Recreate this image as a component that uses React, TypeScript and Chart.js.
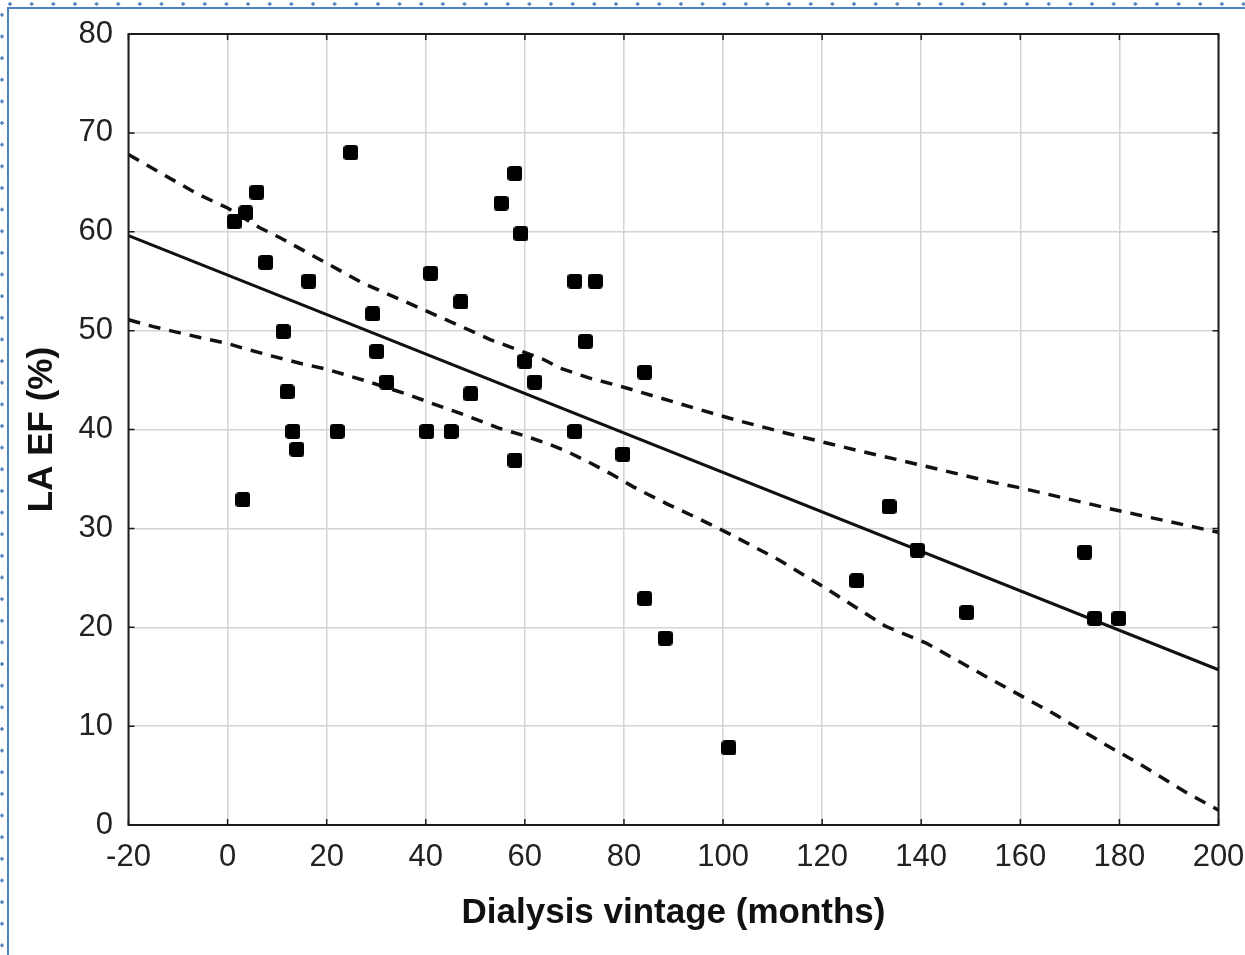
import React, { useEffect, useRef } from "react";
import { Chart, registerables } from "chart.js";

Chart.register(...registerables);

// Dialysis vintage (months) and LA EF (%) for each patient
const vintage = [
  1.3, 3.7, 5.9, 3.1, 7.7, 11.2, 12.0, 13.2, 14.0, 16.4, 22.1, 24.9, 29.3, 30.1,
  32.1, 40.2, 41.0, 45.1, 47.1, 49.1, 55.2, 58.0, 59.2, 60.0, 62.0, 58.0, 70.1,
  74.2, 72.2, 70.1, 79.8, 84.2, 84.2, 88.3, 101.2, 127.0, 133.5, 139.2, 149.2,
  173.0, 175.0, 179.9,
];
const laEF = [
  61.0, 61.9, 64.0, 32.9, 56.9, 49.9, 43.8, 39.8, 38.0, 55.0, 39.8, 68.0, 51.7,
  47.9, 44.8, 39.8, 55.8, 39.8, 52.9, 43.6, 62.9, 65.9, 59.8, 46.9, 44.8, 36.9,
  55.0, 55.0, 48.9, 39.8, 37.5, 45.8, 22.9, 18.9, 7.8, 24.7, 32.2, 27.8, 21.5,
  27.6, 20.9, 20.9,
];

// Regression line
const fitX = [-20, 200];
const fitY = [59.6, 15.7];

// 95% confidence band (upper)
const upperX = [
  -20, -6, 0, 6.5, 10.6, 18.6, 27.3, 36, 45, 53, 58.3, 63.7, 67.1, 73.1, 80.5,
  85.9, 94, 102.3, 113, 127, 136.5, 155, 160, 178, 200,
];
const upperY = [
  67.8, 63.8, 62.4, 60.4, 59.4, 57.2, 54.8, 52.9, 50.9, 49.1, 48.1, 47.1, 46.2,
  45.2, 44.2, 43.4, 42.2, 41.0, 39.6, 37.9, 36.8, 34.6, 34.1, 32.0, 29.6,
];

// 95% confidence band (lower)
const lowerX = [
  -20, -15, -5.6, 0, 4, 9.2, 14.6, 20, 28, 36, 41.5, 46, 50.3, 55, 59.7, 64.4,
  68.4, 72.5, 77.8, 81.9, 85, 89, 95, 101.5, 111.3, 121.2, 132.8, 141, 154.2,
  166.6, 177.3, 184, 193.8, 200,
];
const lowerY = [
  51.1, 50.4, 49.3, 48.7, 48.1, 47.4, 46.7, 46.1, 44.9, 43.6, 42.6, 41.8, 41.0,
  40.1, 39.4, 38.6, 37.8, 36.8, 35.4, 34.2, 33.4, 32.4, 31.0, 29.4, 26.8, 23.8,
  20.1, 18.4, 14.7, 11.3, 8.1, 6.2, 3.2, 1.5,
];

const xTitle = "Dialysis vintage (months)";
const yTitle = "LA EF (%)";

const W = 1245;
const H = 955;
const FONT = '"Liberation Sans", Arial, Helvetica, sans-serif';

const pts = (xs: number[], ys: number[]) => xs.map((x, i) => ({ x, y: ys[i] }));

function makeMarker(): HTMLCanvasElement {
  const s = 15;
  const c = document.createElement("canvas");
  c.width = s;
  c.height = s;
  const g = c.getContext("2d")!;
  g.fillStyle = "#000";
  g.beginPath();
  const r = 3.5;
  g.moveTo(r, 0);
  g.lineTo(s - r, 0);
  g.quadraticCurveTo(s, 0, s, r);
  g.lineTo(s, s - r);
  g.quadraticCurveTo(s, s, s - r, s);
  g.lineTo(r, s);
  g.quadraticCurveTo(0, s, 0, s - r);
  g.lineTo(0, r);
  g.quadraticCurveTo(0, 0, r, 0);
  g.closePath();
  g.fill();
  return c;
}

const framePlugin = {
  id: "frame",
  afterDatasetsDraw(chart: any) {
    const { ctx, chartArea: a, scales } = chart;
    const xs = scales.x;
    const ys = scales.y;
    ctx.save();
    ctx.strokeStyle = "#1c1c1c";
    ctx.lineWidth = 2;
    ctx.strokeRect(a.left, a.top, a.right - a.left, a.bottom - a.top);
    ctx.lineWidth = 1.5;
    ctx.beginPath();
    xs.ticks.forEach((t: any) => {
      const p = xs.getPixelForValue(t.value);
      ctx.moveTo(p, a.top);
      ctx.lineTo(p, a.top + 6);
      ctx.moveTo(p, a.bottom);
      ctx.lineTo(p, a.bottom - 6);
    });
    ys.ticks.forEach((t: any) => {
      const p = ys.getPixelForValue(t.value);
      ctx.moveTo(a.left, p);
      ctx.lineTo(a.left + 6, p);
      ctx.moveTo(a.right, p);
      ctx.lineTo(a.right - 6, p);
    });
    ctx.stroke();
    ctx.restore();
  },
};

function ScatterChart() {
  const ref = useRef<HTMLCanvasElement>(null);
  useEffect(() => {
    if (!ref.current) return;
    const marker = makeMarker();
    const chart = new Chart(ref.current, {
      type: "scatter",
      data: {
        datasets: [
          {
            type: "scatter",
            data: pts(vintage, laEF),
            pointStyle: marker,
            pointRadius: 8,
            pointHoverRadius: 8,
            backgroundColor: "#000",
            borderWidth: 0,
            order: 0,
          } as any,
          {
            type: "line",
            data: pts(fitX, fitY),
            borderColor: "#111",
            borderWidth: 3,
            pointRadius: 0,
            tension: 0,
            fill: false,
            order: 1,
          },
          {
            type: "line",
            data: pts(upperX, upperY),
            borderColor: "#111",
            borderWidth: 3.5,
            borderDash: [12, 9],
            pointRadius: 0,
            tension: 0,
            fill: false,
            order: 2,
          },
          {
            type: "line",
            data: pts(lowerX, lowerY),
            borderColor: "#111",
            borderWidth: 3.5,
            borderDash: [12, 9],
            pointRadius: 0,
            tension: 0,
            fill: false,
            order: 2,
          },
        ],
      },
      options: {
        animation: false,
        responsive: false,
        devicePixelRatio: 1,
        events: [],
        layout: { padding: { left: 0, right: 26.5, top: 34, bottom: 0 } },
        plugins: {
          legend: { display: false },
          tooltip: { enabled: false },
          title: { display: false },
        },
        scales: {
          x: {
            type: "linear",
            min: -20,
            max: 200,
            afterFit: (s: any) => {
              s.height = 130;
              s.paddingLeft = 0;
              s.paddingRight = 0;
            },
            ticks: {
              stepSize: 20,
              padding: 14,
              color: "#222",
              font: { family: FONT, size: 31 },
              maxRotation: 0,
              autoSkip: false,
            },
            grid: { color: "#d4d4d4", lineWidth: 1.5, drawTicks: false },
            border: { display: false },
            title: {
              display: true,
              text: xTitle,
              color: "#111",
              font: { family: FONT, size: 35, weight: "bold" },
              padding: { top: 0, bottom: 21 },
            },
          },
          y: {
            type: "linear",
            min: 0,
            max: 80,
            afterFit: (s: any) => {
              s.width = 128.5;
              s.paddingTop = 0;
              s.paddingBottom = 0;
            },
            ticks: {
              stepSize: 10,
              padding: 15.5,
              color: "#222",
              font: { family: FONT, size: 31 },
            },
            grid: { color: "#d4d4d4", lineWidth: 1.5, drawTicks: false },
            border: { display: false },
            title: {
              display: true,
              text: yTitle,
              color: "#111",
              font: { family: FONT, size: 35, weight: "bold" },
              padding: { top: 21, bottom: 0 },
            },
          },
        },
      },
      plugins: [framePlugin],
    });
    return () => chart.destroy();
  }, []);
  return (
    <canvas
      ref={ref}
      width={W}
      height={H}
      style={{ position: "absolute", left: 0, top: 0, width: W, height: H }}
    />
  );
}

export default function App() {
  const blue = "#4f81bd";
  return (
    <div
      style={{
        position: "fixed",
        left: 0,
        top: 0,
        width: W,
        height: H,
        background: "#fff",
        overflow: "hidden",
      }}
    >
      <div
        style={{
          position: "absolute",
          left: 0,
          top: 2,
          width: W,
          height: 4,
          backgroundImage: `radial-gradient(circle, ${blue} 1.4px, transparent 2px)`,
          backgroundSize: "21.65px 4px",
          backgroundPosition: "-0.8px 0",
          backgroundRepeat: "repeat-x",
        }}
      />
      <div
        style={{
          position: "absolute",
          left: 0,
          top: 4,
          width: 4,
          height: H,
          backgroundImage: `radial-gradient(circle, ${blue} 1.4px, transparent 2px)`,
          backgroundSize: "4px 21.65px",
          backgroundRepeat: "repeat-y",
        }}
      />
      <div
        style={{
          position: "absolute",
          left: 7,
          top: 7,
          width: W - 7,
          height: 2,
          background: blue,
        }}
      />
      <div
        style={{
          position: "absolute",
          left: 7,
          top: 7,
          width: 2,
          height: H - 7,
          background: blue,
        }}
      />
      <ScatterChart />
    </div>
  );
}
